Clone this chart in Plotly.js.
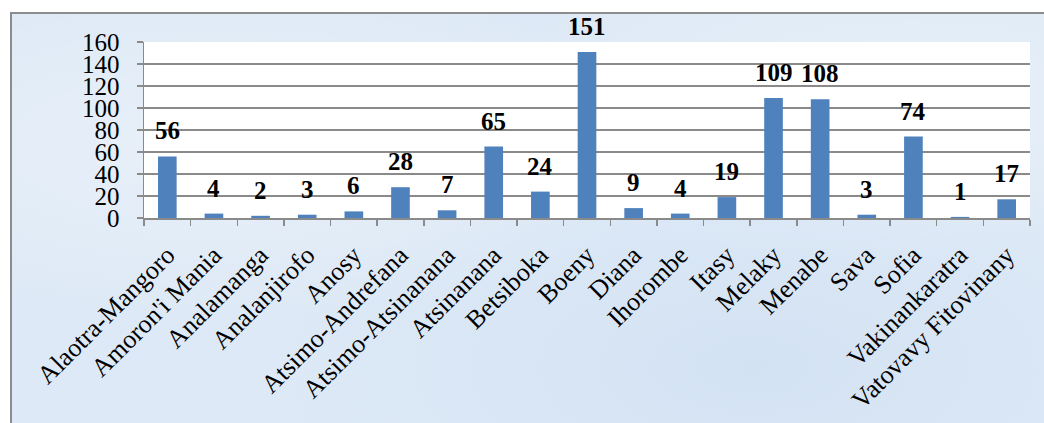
<!DOCTYPE html>
<html>
<head>
<meta charset="utf-8">
<script src="https://cdn.plot.ly/plotly-3.0.1.min.js"></script>
<style>
  html, body { margin: 0; padding: 0; background: #ffffff; }
  #wrap { position: relative; width: 1044px; height: 423px; overflow: hidden; }
  #bg {
    position: absolute; left: 10px; top: 12px; width: 1060px; height: 440px;
    border-left: 2px solid #8c8c8c; border-top: 2px solid #8c8c8c;
    background-color: #dde9f6;
    background-image:
      radial-gradient(ellipse at 20% 30%, rgba(255,255,255,0.35), rgba(255,255,255,0) 40%),
      radial-gradient(ellipse at 70% 80%, rgba(200,218,240,0.45), rgba(200,218,240,0) 45%),
      radial-gradient(ellipse at 85% 20%, rgba(255,255,255,0.3), rgba(255,255,255,0) 35%);
  }
  #chart { position: absolute; left: 0; top: 0; width: 1044px; height: 423px; }
</style>
</head>
<body>
<div id="wrap">
  <div id="bg"></div>
  <div id="chart"></div>
</div>
<script>
const regions = ["Alaotra-Mangoro", "Amoron'i Mania", "Analamanga", "Analanjirofo", "Anosy",
  "Atsimo-Andrefana", "Atsimo-Atsinanana", "Atsinanana", "Betsiboka", "Boeny", "Diana",
  "Ihorombe", "Itasy", "Melaky", "Menabe", "Sava", "Sofia", "Vakinankaratra", "Vatovavy Fitovinany"];
const counts = [56, 4, 2, 3, 6, 28, 7, 65, 24, 151, 9, 4, 19, 109, 108, 3, 74, 1, 17];
const yTicks = [0, 20, 40, 60, 80, 100, 120, 140, 160];

const font = "Liberation Serif, Times New Roman, serif";
const gray = "#8a8a8a";

const trace = {
  type: "bar",
  x: regions,
  y: counts,
  marker: { color: "#4f81bd" },
  hoverinfo: "x+y"
};

const annotations = regions.map((r, i) => ({
  x: r, y: counts[i], xref: "x", yref: "y",
  text: "<b>" + counts[i] + "</b>",
  showarrow: false, yanchor: "bottom", yshift: 10,
  font: { family: font, size: 25, color: "#000" }
}));

const layout = {
  width: 1044, height: 423,
  margin: { l: 144, r: 14, t: 42, b: 205, pad: 0 },
  paper_bgcolor: "rgba(0,0,0,0)",
  plot_bgcolor: "#ffffff",
  bargap: 0.6,
  showlegend: false,
  font: { family: font, size: 24, color: "#000" },
  xaxis: {
    type: "category",
    showline: true, linecolor: gray, linewidth: 1.5,
    ticks: "outside", tickson: "boundaries", ticklen: 6, tickcolor: gray, tickwidth: 1.5,
    tickangle: -45, showgrid: false,
    tickfont: { family: font, size: 26, color: "#000" },
    ticklabelstandoff: 10
  },
  yaxis: {
    range: [0, 160], tickvals: yTicks,
    showline: true, linecolor: gray, linewidth: 1.5,
    ticks: "outside", ticklen: 6, tickcolor: gray, tickwidth: 1.5,
    showgrid: true, gridcolor: gray, gridwidth: 1.5,
    zeroline: false,
    tickfont: { family: font, size: 25, color: "#000" },
    ticklabelstandoff: 12
  },
  annotations: annotations
};

Plotly.newPlot("chart", [trace], layout, { displayModeBar: false, staticPlot: true });
</script>
</body>
</html>
